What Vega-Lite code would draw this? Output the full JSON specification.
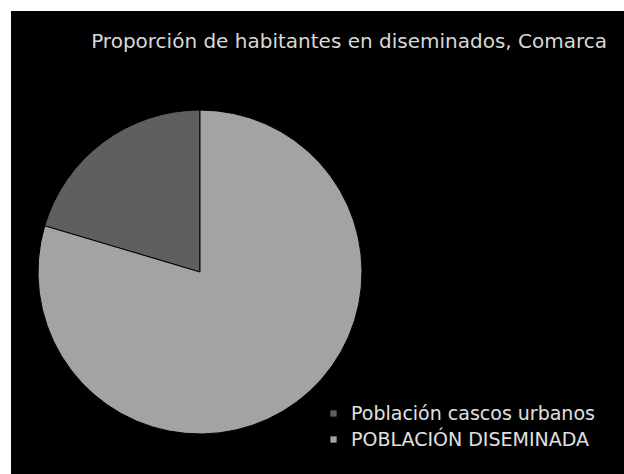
{
  "$schema": "https://vega.github.io/schema/vega-lite/v6.json",
  "width": 613,
  "height": 463,
  "autosize": "none",
  "padding": {"left": 11, "top": 11, "right": 0, "bottom": 0},
  "background": "white",
  "view": {"fill": "black", "stroke": null},
  "title": {
    "text": "Proporción de habitantes en diseminados, Comarca",
    "anchor": "end",
    "orient": "top",
    "frame": "group",
    "offset": -41,
    "dx": -17,
    "color": "#d8d8d8",
    "font": "DejaVu Sans",
    "fontSize": 20,
    "fontWeight": "normal"
  },
  "data": {
    "values": [
      {"categoria": "Población cascos urbanos", "porcentaje": 20.4, "orden": 2},
      {"categoria": "POBLACIÓN DISEMINADA", "porcentaje": 79.6, "orden": 1}
    ]
  },
  "mark": {"type": "arc", "radius": 162, "stroke": "black", "strokeWidth": 1},
  "encoding": {
    "theta": {"field": "porcentaje", "type": "quantitative", "stack": true},
    "order": {"field": "orden", "type": "quantitative"},
    "color": {
      "field": "categoria",
      "type": "nominal",
      "scale": {
        "domain": ["Población cascos urbanos", "POBLACIÓN DISEMINADA"],
        "range": ["#5f5f5f", "#a3a3a3"]
      },
      "legend": {
        "title": null,
        "orient": "none",
        "legendX": 313,
        "legendY": 393,
        "labelColor": "#e0e0e0",
        "labelFont": "DejaVu Sans",
        "labelFontSize": 19,
        "labelLimit": 0,
        "symbolType": "square",
        "symbolSize": 40,
        "symbolStrokeWidth": 0,
        "rowPadding": 6,
        "labelOffset": 8
      }
    },
    "x": {"value": 189},
    "y": {"value": 261}
  }
}
